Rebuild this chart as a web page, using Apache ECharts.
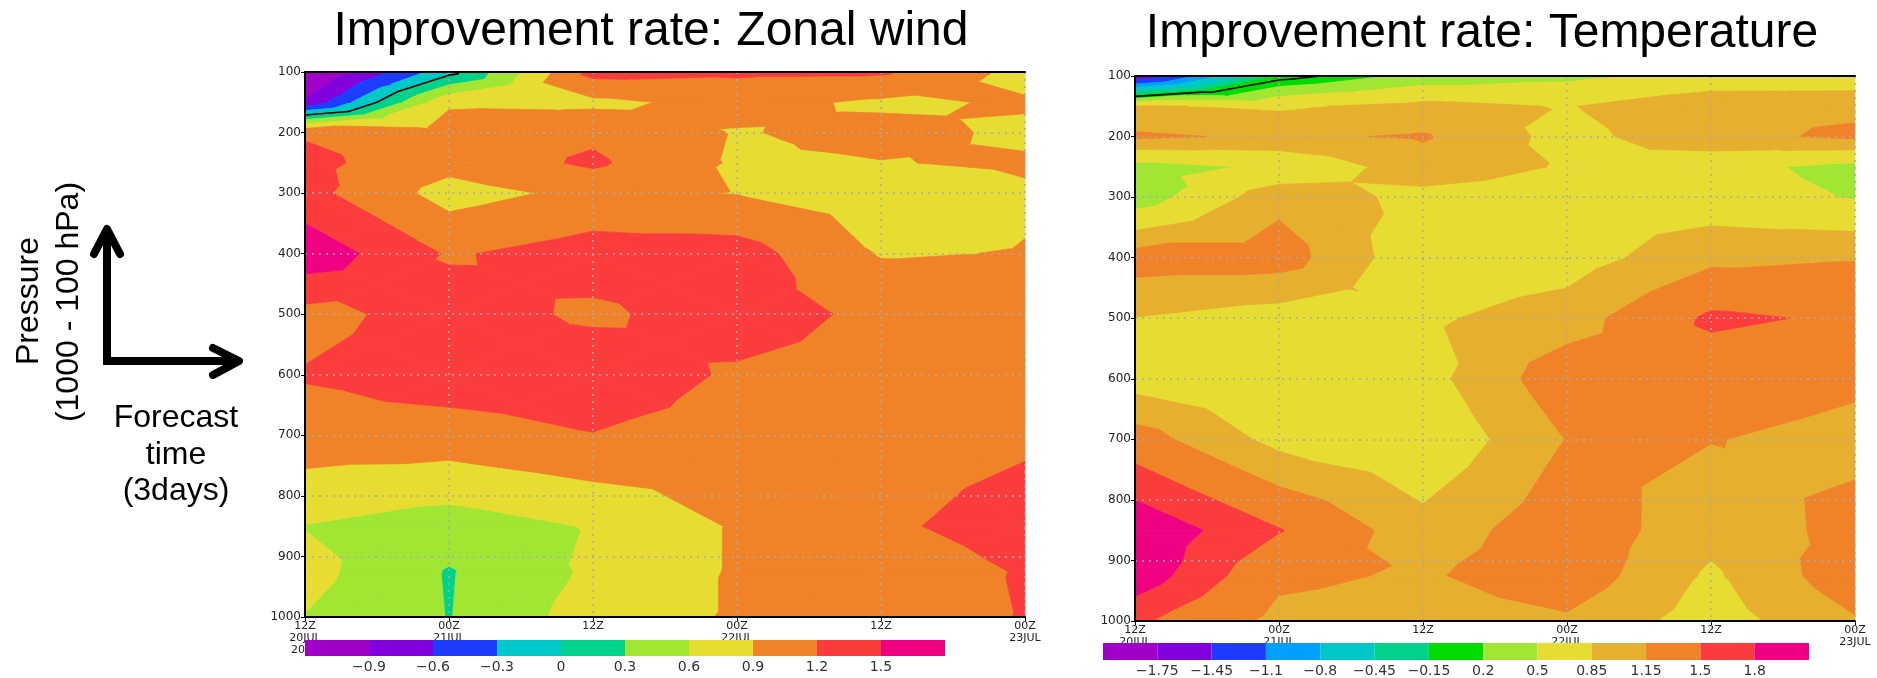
<!DOCTYPE html>
<html><head><meta charset="utf-8">
<script src="https://cdn.jsdelivr.net/npm/echarts@6/dist/echarts.min.js"></script>
<style>html,body{margin:0;padding:0;background:#fff}#c{width:1877px;height:678px}</style>
</head><body><div id="c"></div>
<script>
// ---------- data ----------
const hours = [0, 12, 24, 36, 48, 60];                       // forecast time (h) from 12Z 20JUL
const timeLabels = ['12Z\n20JUL\n2011', '00Z\n21JUL', '12Z', '00Z\n22JUL', '12Z', '00Z\n23JUL'];
const levels = [1000, 925, 850, 700, 600, 500, 400, 300, 250, 200, 150, 100]; // hPa

// Improvement rate: Zonal wind (values at levels 1000 -> 100 hPa)
const uwind_12Z20 = [0.59, 0.70, 0.59, 1.08, 1.22, 1.10, 1.70, 1.30, 1.28, 1.17, -0.85, -1.30];
const uwind_00Z21 = [0.29, 0.28, 0.45, 1.07, 1.35, 1.33, 1.17, 0.78, 1.00, 1.05, 0.85, -0.10];
const uwind_12Z21 = [0.74, 0.65, 0.62, 1.19, 1.38, 1.15, 1.33, 0.98, 1.25, 1.14, 0.83, 1.30];
const uwind_00Z22 = [0.93, 0.93, 0.93, 1.10, 1.16, 1.34, 1.33, 0.89, 0.86, 0.88, 1.00, 1.25];
const uwind_12Z22 = [1.10, 1.05, 1.16, 1.10, 1.10, 1.13, 0.88, 0.75, 0.89, 0.99, 0.85, 1.24];
const uwind_00Z23 = [1.21, 1.22, 1.30, 1.16, 1.10, 1.05, 0.91, 0.87, 0.93, 0.85, 0.93, 0.80];

// Improvement rate: Temperature (values at levels 1000 -> 100 hPa)
const temp_12Z20 = [1.56, 2.00, 2.05, 1.30, 0.70, 0.84, 1.30, 0.30, 0.37, 1.20, 0.88, -1.80];
const temp_00Z21 = [1.06, 1.22, 1.52, 0.75, 0.65, 0.70, 1.30, 1.06, 0.56, 1.10, 0.80, -0.12];
const temp_12Z21 = [1.00, 1.11, 0.96, 0.58, 0.73, 0.80, 0.62, 0.75, 1.03, 1.18, 0.95, 0.30];
const temp_00Z22 = [1.10, 1.35, 1.36, 1.16, 1.35, 1.00, 0.70, 0.70, 0.82, 0.74, 0.83, 0.42];
const temp_12Z22 = [0.70, 0.80, 0.95, 1.16, 1.30, 1.56, 1.07, 0.65, 0.61, 1.07, 1.10, 0.60];
const temp_00Z23 = [1.12, 1.35, 1.25, 1.07, 1.20, 1.45, 1.13, 0.48, 0.40, 1.20, 1.09, 0.62];

// contour levels / colour scales
const uwindLevels = [-0.9, -0.6, -0.3, 0, 0.3, 0.6, 0.9, 1.2, 1.5];
const uwindLabels = ['\u22120.9', '\u22120.6', '\u22120.3', '0', '0.3', '0.6', '0.9', '1.2', '1.5'];
const uwindColors = ['#A000C8', '#8200DC', '#1E3CFF', '#00C8C8', '#00D28C', '#A0E632', '#E6DC32', '#F08228', '#FA3C3C', '#F00082'];

const tempLevels = [-1.75, -1.45, -1.1, -0.8, -0.45, -0.15, 0.2, 0.5, 0.85, 1.15, 1.5, 1.8];
const tempLabels = ['\u22121.75', '\u22121.45', '\u22121.1', '\u22120.8', '\u22120.45', '\u22120.15', '0.2', '0.5', '0.85', '1.15', '1.5', '1.8'];
const tempColors = ['#A000C8', '#8200DC', '#1E3CFF', '#00A0FF', '#00C8C8', '#00D28C', '#00DC00', '#A0E632', '#E6DC32', '#E6AF2D', '#F08228', '#FA3C3C', '#F00082'];

const uwindColumns = [uwind_12Z20, uwind_00Z21, uwind_12Z21, uwind_00Z22, uwind_12Z22, uwind_00Z23];
const tempColumns = [temp_12Z20, temp_00Z21, temp_12Z21, temp_00Z22, temp_12Z22, temp_00Z23];

// ---------- filled contour renderer ----------
function clip(poly, t, keepAbove) {
  const out = [];
  for (let i = 0; i < poly.length; i++) {
    const a = poly[i], b = poly[(i + 1) % poly.length];
    const ain = keepAbove ? a[2] >= t : a[2] <= t;
    const bin = keepAbove ? b[2] >= t : b[2] <= t;
    if (ain) out.push(a);
    if (ain !== bin) {
      const f = (t - a[2]) / (b[2] - a[2]);
      out.push([a[0] + f * (b[0] - a[0]), a[1] + f * (b[1] - a[1]), t]);
    }
  }
  return out;
}
function contourRender(columns, thresholds, colors) {
  return function (params, api) {
    const fills = [], lines = [];
    const P = (t, p) => api.coord([t, p]);
    for (let i = 0; i < hours.length - 1; i++) {
      for (let j = 0; j < levels.length - 1; j++) {
        const A = [hours[i], levels[j], columns[i][j]];
        const B = [hours[i + 1], levels[j], columns[i + 1][j]];
        const C = [hours[i + 1], levels[j + 1], columns[i + 1][j + 1]];
        const D = [hours[i], levels[j + 1], columns[i][j + 1]];
        const M = [(A[0] + B[0]) / 2, (A[1] + D[1]) / 2, (A[2] + B[2] + C[2] + D[2]) / 4];
        for (const tri of [[A, B, M], [B, C, M], [C, D, M], [D, A, M]]) {
          const vs = tri.map(q => q[2]);
          const vmin = Math.min(...vs), vmax = Math.max(...vs);
          for (let k = 0; k < colors.length; k++) {
            const lo = k === 0 ? -Infinity : thresholds[k - 1];
            const hi = k === colors.length - 1 ? Infinity : thresholds[k];
            if (vmax < lo || vmin > hi) continue;
            let poly = tri;
            if (lo > -Infinity) poly = clip(poly, lo, true);
            if (poly.length >= 3 && hi < Infinity) poly = clip(poly, hi, false);
            if (poly.length >= 3) {
              fills.push({
                type: 'polygon',
                shape: { points: poly.map(q => P(q[0], q[1])) },
                style: { fill: colors[k], stroke: colors[k], lineWidth: 0.8 }
              });
            }
          }
          const pts = [];
          for (let e = 0; e < 3; e++) {
            const a = tri[e], b = tri[(e + 1) % 3];
            if ((a[2] < 0) !== (b[2] < 0)) {
              const f = (0 - a[2]) / (b[2] - a[2]);
              pts.push(P(a[0] + f * (b[0] - a[0]), a[1] + f * (b[1] - a[1])));
            }
          }
          if (pts.length === 2) {
            lines.push({
              type: 'line',
              shape: { x1: pts[0][0], y1: pts[0][1], x2: pts[1][0], y2: pts[1][1] },
              style: { stroke: '#000', lineWidth: 1.6, lineCap: 'round' }
            });
          }
        }
      }
    }
    return { type: 'group', children: fills.concat(lines) };
  };
}
function colorbarRender(colors) {
  return function (params, api) {
    const i = api.value(0);
    const a = api.coord([i, 1]);
    const b = api.coord([i + 1, 0]);
    return {
      type: 'rect',
      shape: { x: a[0], y: a[1], width: b[0] - a[0], height: b[1] - a[1] },
      style: { fill: colors[i] }
    };
  };
}

// ---------- axes ----------
const labelFont = 'DejaVu Sans';
function mainX(gridIndex) {
  return {
    gridIndex, type: 'value', min: 0, max: 60, interval: 12, position: 'bottom', z: 10,
    axisLine: { show: true, lineStyle: { color: '#000', width: 2 } },
    axisTick: { show: true, length: 4, lineStyle: { color: '#000' } },
    axisLabel: {
      formatter: v => timeLabels[hours.indexOf(v)] || '',
      fontSize: 11, lineHeight: 12, margin: 3, color: '#222', fontFamily: labelFont
    },
    splitLine: { show: true, lineStyle: { color: '#aaa', type: [2, 5], width: 1.5 } }
  };
}
function frameX(gridIndex) {
  return {
    gridIndex, type: 'value', min: 0, max: 60, position: 'top', z: 10,
    axisLine: { show: true, lineStyle: { color: '#000', width: 2 } },
    axisTick: { show: false }, axisLabel: { show: false }, splitLine: { show: false }
  };
}
function mainY(gridIndex) {
  return {
    gridIndex, type: 'value', inverse: true, min: 100, max: 1000, interval: 100, position: 'left', z: 10,
    axisLine: { show: true, lineStyle: { color: '#000', width: 2 } },
    axisTick: { show: true, length: 4, lineStyle: { color: '#000' } },
    axisLabel: { formatter: v => String(v), fontSize: 12, margin: 4, color: '#222', fontFamily: labelFont },
    splitLine: { show: true, lineStyle: { color: '#aaa', type: [2, 5], width: 1.5 } }
  };
}
function frameY(gridIndex) {
  return {
    gridIndex, type: 'value', inverse: true, min: 100, max: 1000, position: 'right', z: 10,
    axisLine: { show: true, lineStyle: { color: '#000', width: 2 } },
    axisTick: { show: false }, axisLabel: { show: false }, splitLine: { show: false }
  };
}
function barX(gridIndex, labels) {
  return {
    gridIndex, type: 'value', min: 0, max: labels.length + 1, interval: 1, z: 20,
    axisLine: { show: false }, axisTick: { show: false }, splitLine: { show: false },
    axisLabel: {
      formatter: v => (v >= 1 && v <= labels.length) ? labels[v - 1] : '',
      fontSize: 14, margin: 4, color: '#333', fontFamily: labelFont,
      showMinLabel: true, showMaxLabel: true
    }
  };
}
function barY(gridIndex) {
  return { gridIndex, type: 'value', min: 0, max: 1, show: false };
}

const option = {
  animation: false,
  backgroundColor: '#fff',
  grid: [
    { left: 305, top: 72, width: 720, height: 545 },
    { left: 1135, top: 76, width: 720, height: 545 },
    { left: 305, top: 640, width: 640, height: 16 },
    { left: 1103, top: 643, width: 706, height: 17 }
  ],
  xAxis: [mainX(0), mainX(1), frameX(0), frameX(1), barX(2, uwindLabels), barX(3, tempLabels)],
  yAxis: [mainY(0), mainY(1), frameY(0), frameY(1), barY(2), barY(3)],
  series: [
    {
      type: 'custom', xAxisIndex: 0, yAxisIndex: 0, silent: true, z: 2,
      data: [[30, 550]], renderItem: contourRender(uwindColumns, uwindLevels, uwindColors)
    },
    {
      type: 'custom', xAxisIndex: 1, yAxisIndex: 1, silent: true, z: 2,
      data: [[30, 550]], renderItem: contourRender(tempColumns, tempLevels, tempColors)
    },
    {
      type: 'custom', xAxisIndex: 4, yAxisIndex: 4, silent: true, z: 20,
      data: uwindColors.map((c, i) => [i, 0]), renderItem: colorbarRender(uwindColors)
    },
    {
      type: 'custom', xAxisIndex: 5, yAxisIndex: 5, silent: true, z: 20,
      data: tempColors.map((c, i) => [i, 0]), renderItem: colorbarRender(tempColors)
    }
  ],
  graphic: [
    { type: 'text', x: 651, y: 32, z: 30,
      style: { text: 'Improvement rate: Zonal wind', font: '48px "Liberation Sans"', fill: '#000', textAlign: 'center', textVerticalAlign: 'middle' } },
    { type: 'text', x: 1482, y: 34, z: 30,
      style: { text: 'Improvement rate: Temperature', font: '48px "Liberation Sans"', fill: '#000', textAlign: 'center', textVerticalAlign: 'middle' } },
    { type: 'text', x: 29, y: 301, rotation: Math.PI / 2, z: 30,
      style: { text: 'Pressure', font: '32px "Liberation Sans"', fill: '#000', textAlign: 'center', textVerticalAlign: 'middle' } },
    { type: 'text', x: 69, y: 302, rotation: Math.PI / 2, z: 30,
      style: { text: '(1000 - 100 hPa)', font: '32px "Liberation Sans"', fill: '#000', textAlign: 'center', textVerticalAlign: 'middle' } },
    { type: 'text', x: 176, y: 418, z: 30,
      style: { text: 'Forecast', font: '32px "Liberation Sans"', fill: '#000', textAlign: 'center', textVerticalAlign: 'middle' } },
    { type: 'text', x: 176, y: 455, z: 30,
      style: { text: 'time', font: '32px "Liberation Sans"', fill: '#000', textAlign: 'center', textVerticalAlign: 'middle' } },
    { type: 'text', x: 176, y: 491, z: 30,
      style: { text: '(3days)', font: '32px "Liberation Sans"', fill: '#000', textAlign: 'center', textVerticalAlign: 'middle' } },
    { type: 'polyline', z: 30, shape: { points: [[107, 230], [107, 361], [238, 361]] },
      style: { stroke: '#000', lineWidth: 8, fill: null, lineJoin: 'miter', lineCap: 'butt' } },
    { type: 'polyline', z: 30, shape: { points: [[94, 254], [107, 229], [120, 254]] },
      style: { stroke: '#000', lineWidth: 8, fill: null, lineJoin: 'round', lineCap: 'round' } },
    { type: 'polyline', z: 30, shape: { points: [[213, 348], [239, 361], [213, 375]] },
      style: { stroke: '#000', lineWidth: 8, fill: null, lineJoin: 'round', lineCap: 'round' } }
  ]
};

const chart = echarts.init(document.getElementById('c'), null, { renderer: 'canvas' });
chart.setOption(option);
</script>
</body></html>
